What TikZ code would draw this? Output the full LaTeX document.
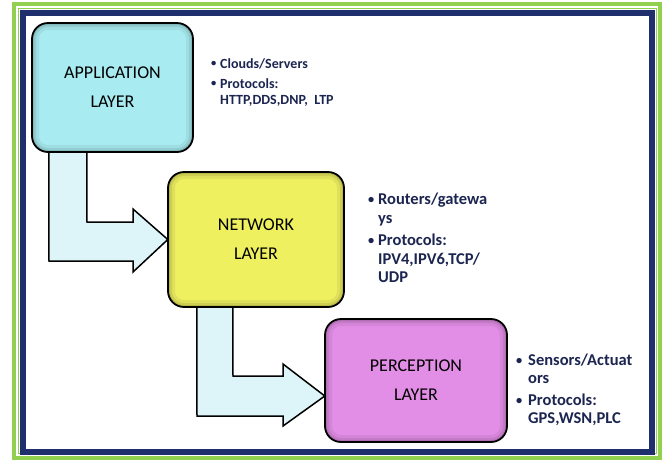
\documentclass[tikz,border=0pt]{standalone}
\usepackage{fontspec}
\usepackage{graphicx}
\setmainfont{Carlito}
\usetikzlibrary{calc}
\definecolor{framegreen}{HTML}{92D050}
\definecolor{framenavy}{HTML}{1F2F6E}
\definecolor{appfill}{HTML}{A8ECF2}
\definecolor{netfill}{HTML}{EEF060}
\definecolor{percfill}{HTML}{E38EE6}
\definecolor{arrowfill}{HTML}{DDF4F8}
\definecolor{bullettext}{HTML}{1B2550}
\tikzset{
  layerbox/.style={draw=black, line width=1.8pt, rounded corners=16pt,
    align=center, font=\fontsize{18}{29}\selectfont, inner sep=0pt,
    path picture={
      \foreach \w/\o in {14/0.06,8/0.08,4/0.10}
        \draw[black, opacity=\o, line width=\w pt, rounded corners=16pt]
          (path picture bounding box.south west) rectangle (path picture bounding box.north east);
    }},
  blockarrow/.style={draw=black, line width=1.5pt, fill=arrowfill, line join=miter},
  bullets/.style={anchor=north west, align=left, text=bullettext, inner sep=0pt}
}
\newcommand{\bul}[1]{\makebox[#1][l]{\raisebox{0.1em}{\scalebox{0.75}{\textbullet}}}}
\begin{document}
\begin{tikzpicture}[x=1pt,y=-1pt]
\useasboundingbox (0,0) rectangle (664,459);
% outer frames
\draw[framegreen, line width=4pt] (14,4) rectangle (660,457.5);
\draw[framegreen, line width=0.8pt] (18.2,8) rectangle (656,453.5);
\draw[framenavy, line width=6pt] (23,13) rectangle (652,451.5);

% layer boxes (placed first so the arrows can refer to them)
\path (112.5,87.5) node[minimum width=161pt, minimum height=129pt, inner sep=0pt] (app) {};
\path (256,239.5) node[minimum width=176pt, minimum height=135pt, inner sep=0pt] (net) {};
\path (416,380.5) node[minimum width=182pt, minimum height=123pt, inner sep=0pt] (perc) {};

% bent block arrows between the layers
\draw[blockarrow] ($(app.south west)+(17,-3)$) -- (49,261) -- (133,261) -- (133,272)
  -- (net.west) -- (133,209) -- (133,222) -- (87,222) -- ($(app.south west)+(55,-3)$) -- cycle;
\draw[blockarrow] ($(net.south west)+(29,-3)$) -- (197,416) -- (283,416) -- (283,426)
  -- ($(perc.west)+(0,15.5)$) -- (283,364) -- (283,376) -- (233,376) -- ($(net.south west)+(65,-3)$) -- cycle;

% the boxes themselves, over the arrow shafts
\node[layerbox, fill=appfill, minimum width=161pt, minimum height=129pt] at (app) {APPLICATION\\LAYER};
\node[layerbox, fill=netfill, minimum width=176pt, minimum height=135pt] at (net) {NETWORK\\LAYER};
\node[layerbox, fill=percfill, minimum width=182pt, minimum height=123pt] at (perc) {PERCEPTION\\LAYER};

% descriptions
\node[bullets, font=\bfseries\fontsize{14}{16}\selectfont] (appinfo) at (211,58)
  {\bul{9pt}Clouds/Servers\\[4pt]\bul{9pt}Protocols:\\\hspace*{9pt}HTTP,DDS,DNP,\ \ LTP};
\node[bullets, font=\bfseries\fontsize{16.5}{18.5}\selectfont] (netinfo) at (368,193)
  {\bul{10pt}Routers/gatewa\\\hspace*{10pt}ys\\[4pt]\bul{10pt}Protocols:\\\hspace*{10pt}IPV4,IPV6,TCP/\\\hspace*{10pt}UDP};
\node[bullets, font=\bfseries\fontsize{16.5}{18}\selectfont] (percinfo) at (516,354)
  {\bul{12pt}Sensors/Actuat\\\hspace*{12pt}ors\\[4pt]\bul{12pt}Protocols:\\\hspace*{12pt}GPS,WSN,PLC};
\end{tikzpicture}
\end{document}
